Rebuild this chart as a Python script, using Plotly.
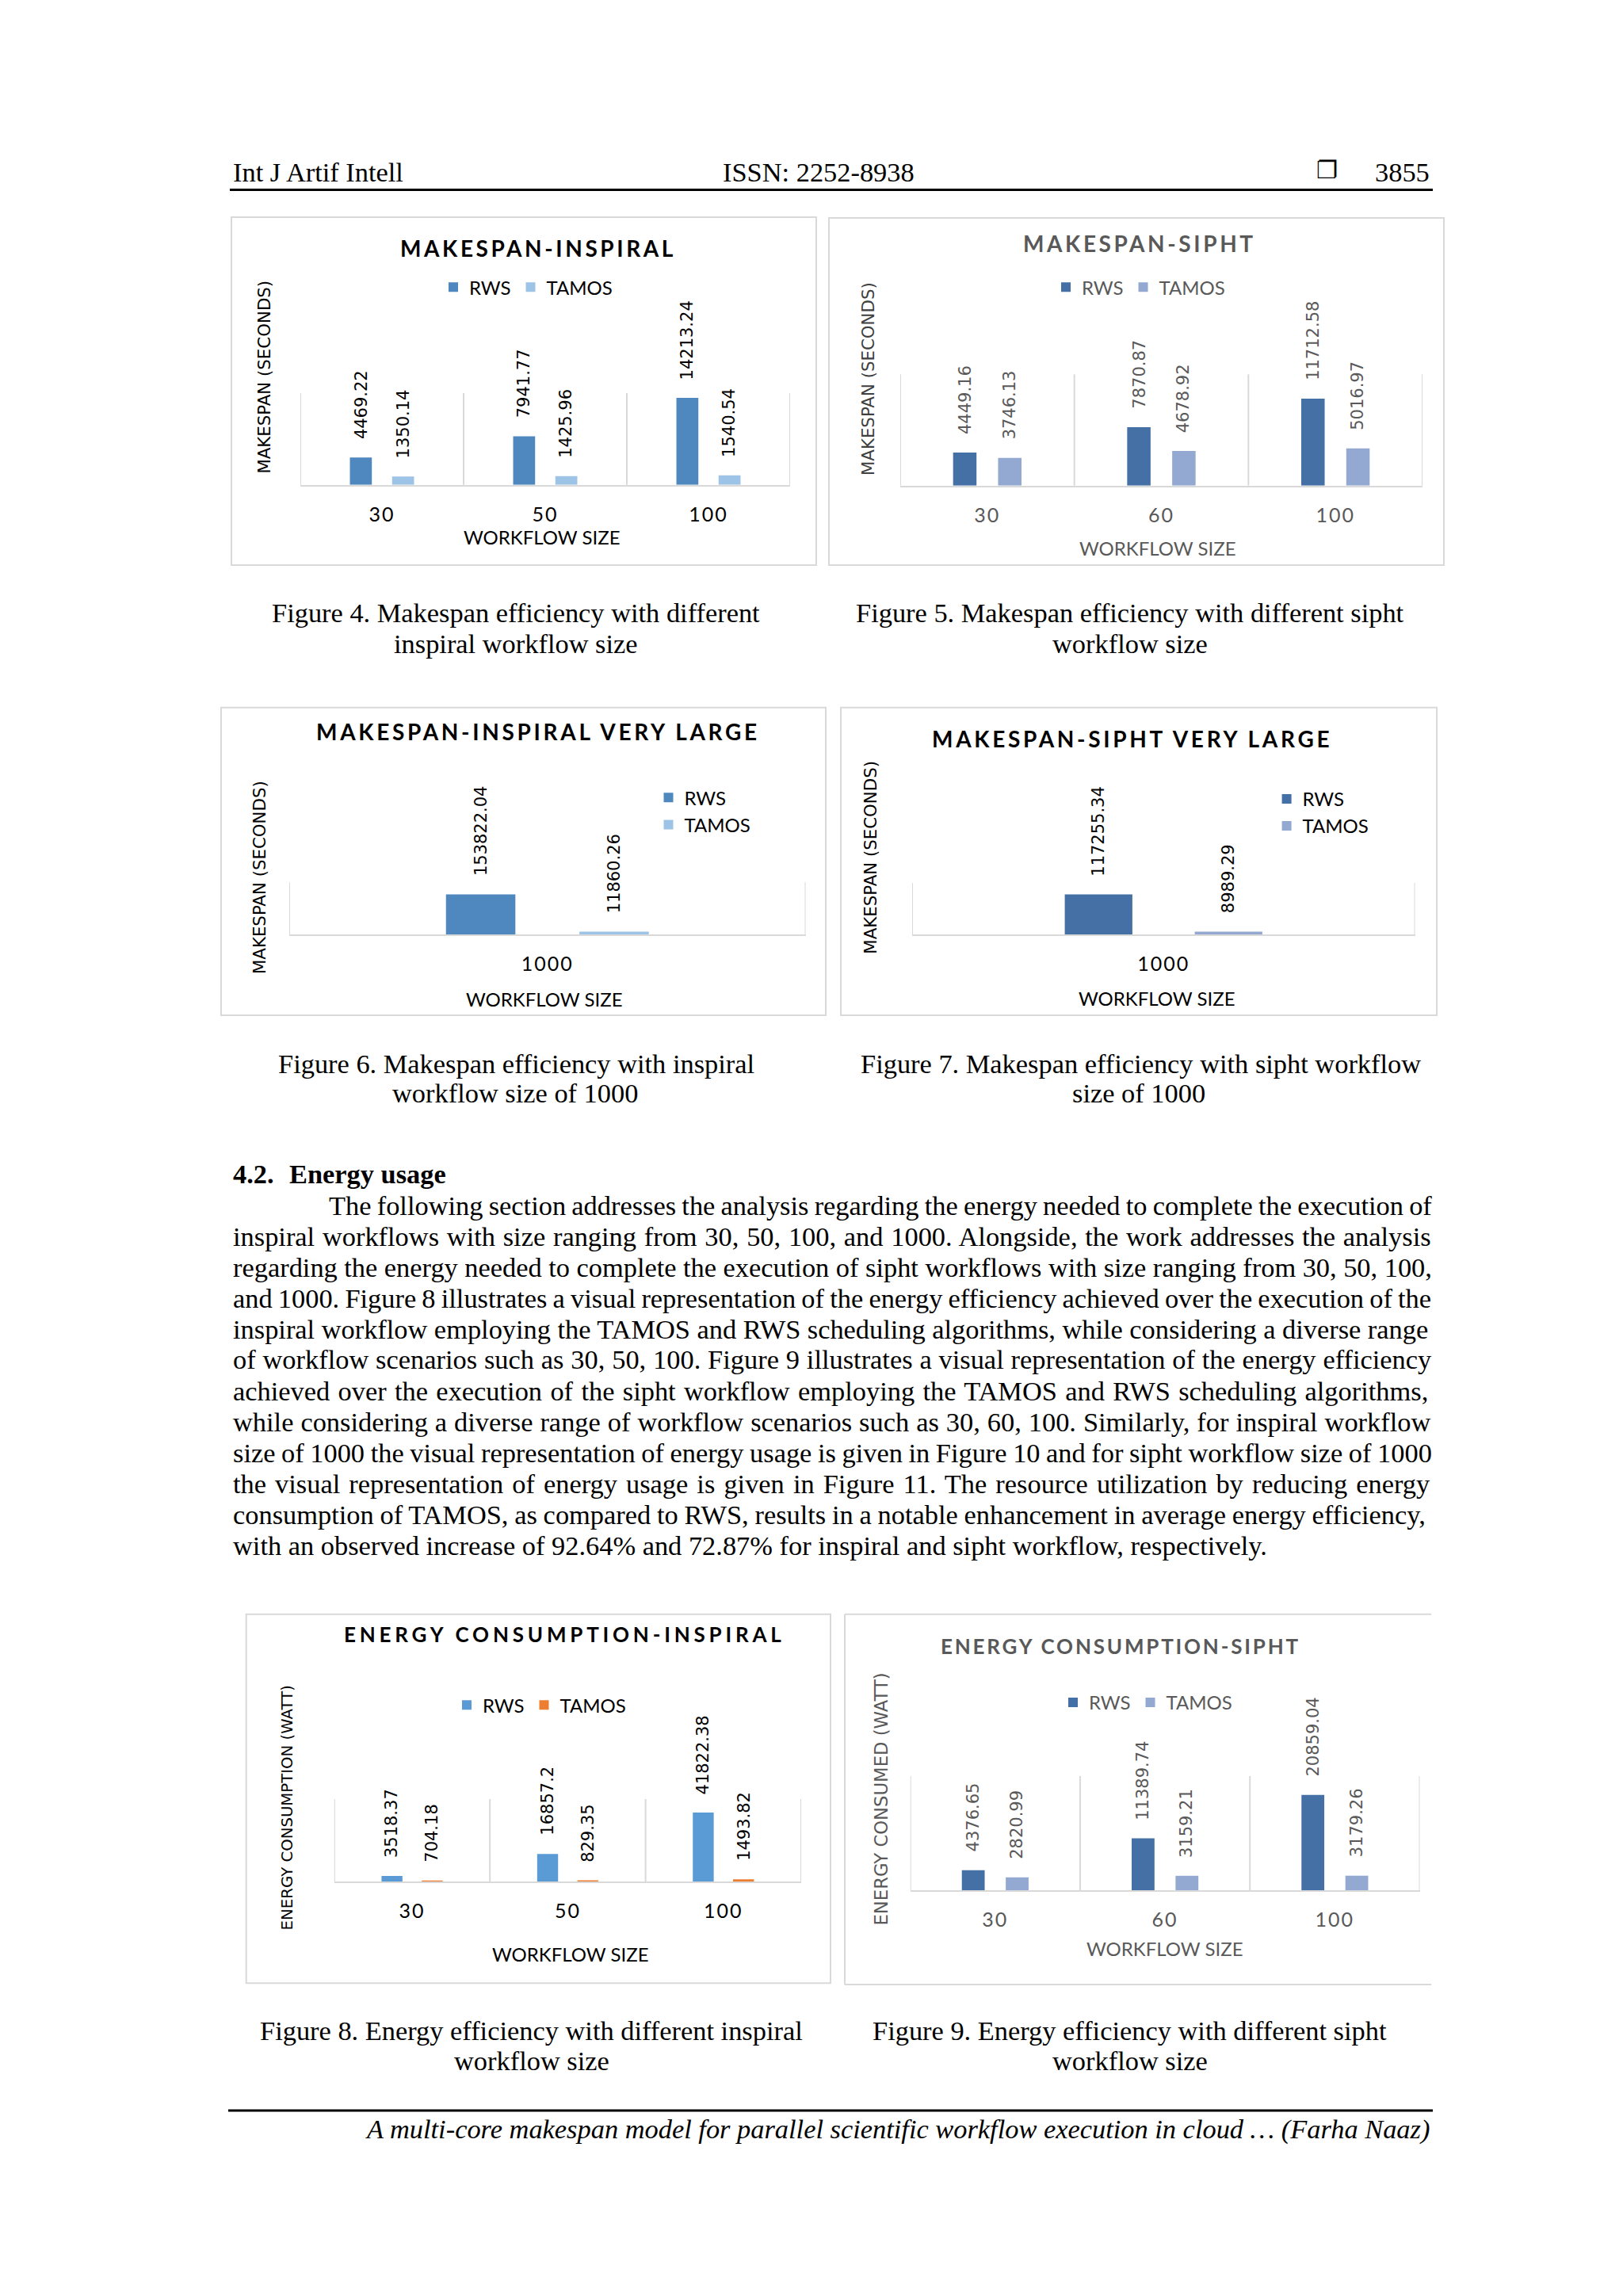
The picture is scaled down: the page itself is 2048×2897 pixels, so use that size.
import plotly.graph_objects as go

PAGE_W, PAGE_H = 2048, 2897
BODY_MARGIN = 8  # default HTML body margin around the plot div
W, H = PAGE_W - 2 * BODY_MARGIN, PAGE_H - 2 * BODY_MARGIN

# ---------------- data ----------------
inspiral_sizes = ["30", "50", "100"]
sipht_sizes = ["30", "60", "100"]
large_sizes = ["1000"]
series_names = ["RWS", "TAMOS"]

makespan_inspiral_rws = [4469.22, 7941.77, 14213.24]
makespan_inspiral_tamos = [1350.14, 1425.96, 1540.54]
makespan_sipht_rws = [4449.16, 7870.87, 11712.58]
makespan_sipht_tamos = [3746.13, 4678.92, 5016.97]
makespan_inspiral_large_rws = [153822.04]
makespan_inspiral_large_tamos = [11860.26]
makespan_sipht_large_rws = [117255.34]
makespan_sipht_large_tamos = [8989.29]
energy_inspiral_rws = [3518.37, 16857.2, 41822.38]
energy_inspiral_tamos = [704.18, 829.35, 1493.82]
energy_sipht_rws = [4376.65, 11389.74, 20859.04]
energy_sipht_tamos = [2820.99, 3159.21, 3179.26]

header_left = "Int J Artif Intell"
header_mid = "ISSN: 2252-8938"
header_page = "3855"
footer_text = "A multi-core makespan model for parallel scientific workflow execution in cloud … (Farha Naaz)"
section_num = "4.2."
section_title = "Energy usage"
body_lines = [
    "The following section addresses the analysis regarding the energy needed to complete the execution of",
    "inspiral workflows with size ranging from 30, 50, 100, and 1000. Alongside, the work addresses the analysis",
    "regarding the energy needed to complete the execution of sipht workflows with size ranging from 30, 50, 100,",
    "and 1000. Figure 8 illustrates a visual representation of the energy efficiency achieved over the execution of the",
    "inspiral workflow employing the TAMOS and RWS scheduling algorithms, while considering a diverse range",
    "of workflow scenarios such as 30, 50, 100. Figure 9 illustrates a visual representation of the energy efficiency",
    "achieved over the execution of the sipht workflow employing the TAMOS and RWS scheduling algorithms,",
    "while considering a diverse range of workflow scenarios such as 30, 60, 100. Similarly, for inspiral workflow",
    "size of 1000 the visual representation of energy usage is given in Figure 10 and for sipht workflow size of 1000",
    "the visual representation of energy usage is given in Figure 11. The resource utilization by reducing energy",
    "consumption of TAMOS, as compared to RWS, results in a notable enhancement in average energy efficiency,",
    "with an observed increase of 92.64% and 72.87% for inspiral and sipht workflow, respectively.",
]
captions = [
    ["Figure 4. Makespan efficiency with different", "inspiral workflow size"],
    ["Figure 5. Makespan efficiency with different sipht", "workflow size"],
    ["Figure 6. Makespan efficiency with inspiral", "workflow size of 1000"],
    ["Figure 7. Makespan efficiency with sipht workflow", "size of 1000"],
    ["Figure 8. Energy efficiency with different inspiral", "workflow size"],
    ["Figure 9. Energy efficiency with different sipht", "workflow size"],
]

# ---------------- styling / layout ----------------
BLACK = "#000000"
GRAY = "#595959"
DGRAY = "#404040"
GRID = "#d9d9d9"
SERIF = "Liberation Serif"
BODY = 34.4
BARGAP = 0.483
BARGROUPGAP = 0.48


def px(x):
    return (x - BODY_MARGIN) / W


def py(y):
    return 1 - (y - BODY_MARGIN) / H


panels = [
    dict(cats=inspiral_sizes, vals=[makespan_inspiral_rws, makespan_inspiral_tamos],
         colors=["#4f87bf", "#9dc3e6"], plot=(379, 496, 997, 611.7), ymax=15000,
         box=(292, 274, 1030, 713), open_right=False,
         title="MAKESPAN-INSPIRAL", title_xy=(679, 313), title_size=28, title_ls=3.6, title_color=BLACK,
         leg=dict(orientation="h", x=552, y=362.7), leg_color=BLACK,
         ytitle="MAKESPAN (SECONDS)", ytitle_xy=(333.6, 476), ytitle_size=21.3, ytitle_color=BLACK,
         xtitle_xy=(684, 678), text_color=BLACK, label_color=BLACK,
         caption_xy=[(650.6, 773.3), (650.7, 811.7)]),
    dict(cats=sipht_sizes, vals=[makespan_sipht_rws, makespan_sipht_tamos],
         colors=["#4470a5", "#93a9d2"], plot=(1136, 472.3, 1795, 612.7), ymax=15000,
         box=(1046, 275, 1822, 713), open_right=False,
         title="MAKESPAN-SIPHT", title_xy=(1438, 306.7), title_size=28, title_ls=3.6, title_color=GRAY,
         leg=dict(orientation="h", x=1325, y=362.7), leg_color=GRAY,
         ytitle="MAKESPAN (SECONDS)", ytitle_xy=(1095, 478), ytitle_size=21.3, ytitle_color=DGRAY,
         xtitle_xy=(1461, 691.7), text_color=GRAY, label_color=GRAY,
         caption_xy=[(1425.7, 773.3), (1425.7, 811.7)]),
    dict(cats=large_sizes, vals=[makespan_inspiral_large_rws, makespan_inspiral_large_tamos],
         colors=["#4f87bf", "#9dc3e6"], plot=(365, 1113.3, 1016.5, 1179.3), ymax=200000,
         box=(279, 892.7, 1042, 1281), open_right=False,
         title="MAKESPAN-INSPIRAL VERY LARGE", title_xy=(679, 923.3), title_size=28, title_ls=3.7,
         title_color=BLACK,
         leg=dict(orientation="v", x=823.5, y=1023.7), leg_color=BLACK,
         ytitle="MAKESPAN (SECONDS)", ytitle_xy=(327.5, 1107.5), ytitle_size=21.3, ytitle_color=BLACK,
         xtitle_xy=(686.5, 1260), text_color=BLACK, label_color=BLACK,
         caption_xy=[(651.7, 1341.7), (649.7, 1379)]),
    dict(cats=large_sizes, vals=[makespan_sipht_large_rws, makespan_sipht_large_tamos],
         colors=["#4470a5", "#93a9d2"], plot=(1151, 1114.3, 1785.5, 1179.3), ymax=150000,
         box=(1061, 892.7, 1813, 1281), open_right=False,
         title="MAKESPAN-SIPHT VERY LARGE", title_xy=(1428, 931.7), title_size=28, title_ls=3.7,
         title_color=BLACK,
         leg=dict(orientation="v", x=1603.6, y=1025.3), leg_color=BLACK,
         ytitle="MAKESPAN (SECONDS)", ytitle_xy=(1099, 1081.7), ytitle_size=21.3, ytitle_color=BLACK,
         xtitle_xy=(1459.7, 1259.3), text_color=BLACK, label_color=BLACK,
         caption_xy=[(1439, 1341.7), (1436.5, 1379)]),
    dict(cats=inspiral_sizes, vals=[energy_inspiral_rws, energy_inspiral_tamos],
         colors=["#5b9bd5", "#ed7d31"], plot=(421.8, 2270, 1011, 2374.3), ymax=50000,
         box=(310.7, 2036.7, 1048, 2502.3), open_right=False,
         title="ENERGY CONSUMPTION-INSPIRAL", title_xy=(712, 2061.7), title_size=26, title_ls=4.8,
         title_color=BLACK,
         leg=dict(orientation="h", x=569, y=2151.7), leg_color=BLACK,
         ytitle="ENERGY CONSUMPTION (WATT)", ytitle_xy=(362.4, 2281), ytitle_size=19.7, ytitle_color=BLACK,
         xtitle_xy=(720, 2465), text_color=BLACK, label_color=BLACK,
         caption_xy=[(670.5, 2561.7), (670.5, 2600)]),
    dict(cats=sipht_sizes, vals=[energy_sipht_rws, energy_sipht_tamos],
         colors=["#4470a5", "#93a9d2"], plot=(1148.7, 2241, 1791.5, 2385), ymax=25000,
         box=(1066, 2036.7, 1806, 2504), open_right=True,
         title="ENERGY CONSUMPTION-SIPHT", title_xy=(1414, 2076.7), title_size=26, title_ls=2.8,
         title_color=GRAY,
         leg=dict(orientation="h", x=1334, y=2148.3), leg_color=GRAY,
         ytitle="ENERGY CONSUMED (WATT)", ytitle_xy=(1111, 2270.5), ytitle_size=22.7, ytitle_color=GRAY,
         xtitle_xy=(1469.7, 2458.3), text_color=GRAY, label_color=GRAY,
         caption_xy=[(1425.7, 2561.7), (1425.7, 2600)]),
]

fig = go.Figure()
layout = dict(
    width=W, height=H, margin=dict(l=0, r=0, t=0, b=0, pad=0),
    paper_bgcolor="white", plot_bgcolor="rgba(0,0,0,0)",
    barmode="group", bargap=BARGAP, bargroupgap=BARGROUPGAP,
    showlegend=True, hovermode=False,
)
annotations = []
shapes = []


def ann(text, x, y, size, color=BLACK, family=SERIF, xanchor="center", yanchor="middle",
        xref="paper", yref="paper", textangle=0, xshift=0, yshift=0):
    if xref == "paper":
        x = px(x)
    if yref == "paper":
        y = py(y)
    annotations.append(dict(text=text, x=x, y=y, xref=xref, yref=yref, showarrow=False,
                            xanchor=xanchor, yanchor=yanchor, textangle=textangle,
                            xshift=xshift, yshift=yshift,
                            font=dict(family=family, size=size, color=color)))


for i, p in enumerate(panels, start=1):
    sfx = "" if i == 1 else str(i)
    xa, ya = "x" + sfx, "y" + sfx
    legname = "legend" + sfx
    x0, y0, x1, y1 = p["plot"]
    n = len(p["cats"])
    for s, name in enumerate(series_names):
        fig.add_trace(go.Bar(
            x=p["cats"], y=p["vals"][s], name=name, marker=dict(color=p["colors"][s], line=dict(width=0)),
            xaxis=xa, yaxis=ya, legend=legname, hoverinfo="skip",
        ))
    layout["xaxis" + sfx] = dict(
        domain=[px(x0), px(x1)], anchor=ya, type="category", range=[-0.5, n - 0.5],
        categoryorder="array", categoryarray=p["cats"],
        tickmode="array", tickvals=p["cats"],
        ticktext=['<span style="letter-spacing:2px">%s</span>' % c for c in p["cats"]],
        ticks="", ticklabelstandoff=14,
        tickfont=dict(family="Lato", size=25, color=p["text_color"]),
        showline=True, linecolor=GRID, linewidth=2, showgrid=False, zeroline=False,
        fixedrange=True,
    )
    layout["yaxis" + sfx] = dict(
        domain=[py(y1), py(y0)], anchor=xa, range=[0, p["ymax"]], visible=True,
        showticklabels=False, showgrid=False, zeroline=False, showline=False, ticks="",
        fixedrange=True,
    )
    # category separator lines (category boundaries on the category axis)
    for k in range(n + 1):
        shapes.append(dict(type="line", xref=xa, yref=ya + " domain", x0=k - 0.5, x1=k - 0.5,
                           y0=0, y1=1, line=dict(color=GRID, width=2), layer="below"))
    # legend
    lg = p["leg"]
    layout[legname] = dict(
        orientation=lg["orientation"], x=px(lg["x"]), y=py(lg["y"]), xanchor="left", yanchor="middle",
        bgcolor="rgba(0,0,0,0)", borderwidth=0, traceorder="normal",
        font=dict(family="Lato", size=24, color=p["leg_color"]), itemclick=False, itemdoubleclick=False,
    )
    # data labels above bars (category axis positions are category indices)
    cat_px = (x1 - x0) / n
    slot = cat_px * (1 - BARGAP) / 2
    for s in range(2):
        off = (-0.5 if s == 0 else 0.5) * slot
        for j, v in enumerate(p["vals"][s]):
            ann(str(v), j, v, 21, color=p["label_color"], family="DejaVu Sans", xref=xa, yref=ya,
                textangle=-90, xanchor="center", yanchor="bottom", xshift=off, yshift=21)
    # title
    tx, ty = p["title_xy"]
    ann('<span style="letter-spacing:%spx"><b>%s</b></span>' % (p["title_ls"], p["title"]),
        tx, ty, p["title_size"], color=p["title_color"], family="Lato")
    # axis titles
    ax_, ay_ = p["ytitle_xy"]
    ann(p["ytitle"], ax_, ay_, p["ytitle_size"], color=p["ytitle_color"], family="DejaVu Sans", textangle=-90)
    bx, by = p["xtitle_xy"]
    ann("WORKFLOW SIZE", bx, by, 24, color=p["text_color"], family="Lato")
    # frame
    bx0, by0, bx1, by1 = p["box"]
    if p["open_right"]:
        for seg in [(bx0, by0, bx1, by0), (bx0, by0, bx0, by1), (bx0, by1, bx1, by1)]:
            shapes.append(dict(type="line", xref="paper", yref="paper", x0=px(seg[0]), y0=py(seg[1]),
                               x1=px(seg[2]), y1=py(seg[3]), line=dict(color=GRID, width=2)))
    else:
        shapes.append(dict(type="rect", xref="paper", yref="paper", x0=px(bx0), y0=py(by0),
                           x1=px(bx1), y1=py(by1), line=dict(color=GRID, width=2),
                           fillcolor="rgba(0,0,0,0)"))
    # caption
    for line, (cx, cy) in zip(captions[i - 1], p["caption_xy"]):
        ann(line, cx, cy, BODY)

# ---------------- page text ----------------
TIMES = {" ": 250, "!": 333, "%": 833, "(": 333, ")": 333, ",": 250, "-": 333, ".": 250, ":": 278,
         "A": 722, "B": 667, "C": 667, "D": 722, "E": 611, "F": 556, "G": 722, "H": 722, "I": 333,
         "J": 389, "K": 722, "L": 611, "M": 889, "N": 722, "O": 722, "P": 556, "Q": 722, "R": 667,
         "S": 556, "T": 611, "U": 722, "V": 722, "W": 944, "X": 722, "Y": 722, "Z": 611,
         "a": 444, "b": 500, "c": 444, "d": 500, "e": 444, "f": 333, "g": 500, "h": 500, "i": 278,
         "j": 278, "k": 500, "l": 278, "m": 778, "n": 500, "o": 500, "p": 500, "q": 500, "r": 333,
         "s": 389, "t": 278, "u": 500, "v": 500, "w": 722, "x": 500, "y": 500, "z": 444}


def natural_width(s, size):
    return sum(TIMES.get(ch, 500) for ch in s) / 1000.0 * size


TEXT_L, TEXT_R, INDENT = 292, 1806, 413

# header
ann(header_left, TEXT_L, 217, BODY, xanchor="left")
ann(header_mid, 1033, 217, BODY)
ann("❐", 1674, 215, 30, family="DejaVu Sans")
ann(header_page, TEXT_R, 217, BODY, xanchor="right")
shapes.append(dict(type="line", xref="paper", yref="paper", x0=px(290), x1=px(1808), y0=py(239.5),
                   y1=py(239.5), line=dict(color=BLACK, width=3)))

# section heading
ann("<b>%s</b>" % section_num, TEXT_L, 1481, BODY, xanchor="left")
ann("<b>%s</b>" % section_title, 363, 1481, BODY, xanchor="left")

# justified paragraph
LINE_Y0, LINE_DY = 1520.5, 39.0
for k, line in enumerate(body_lines):
    left = INDENT if k == 0 else TEXT_L
    y = LINE_Y0 + k * LINE_DY
    if k < len(body_lines) - 1:
        nsp = line.count(" ")
        ws = (TEXT_R - left - natural_width(line, BODY)) / max(nsp, 1)
        txt = '<span style="word-spacing:%.2fpx">%s</span>' % (ws, line)
    else:
        txt = line
    ann(txt, left, y, BODY, xanchor="left")

# footer
shapes.append(dict(type="line", xref="paper", yref="paper", x0=px(288), x1=px(1808), y0=py(2663),
                   y1=py(2663), line=dict(color=BLACK, width=3)))
ann("<i>%s</i>" % footer_text, TEXT_R, 2686, BODY, xanchor="right")

layout["annotations"] = annotations
layout["shapes"] = shapes
fig.update_layout(**layout)
fig.write_html("out.html", config={"displayModeBar": False})
